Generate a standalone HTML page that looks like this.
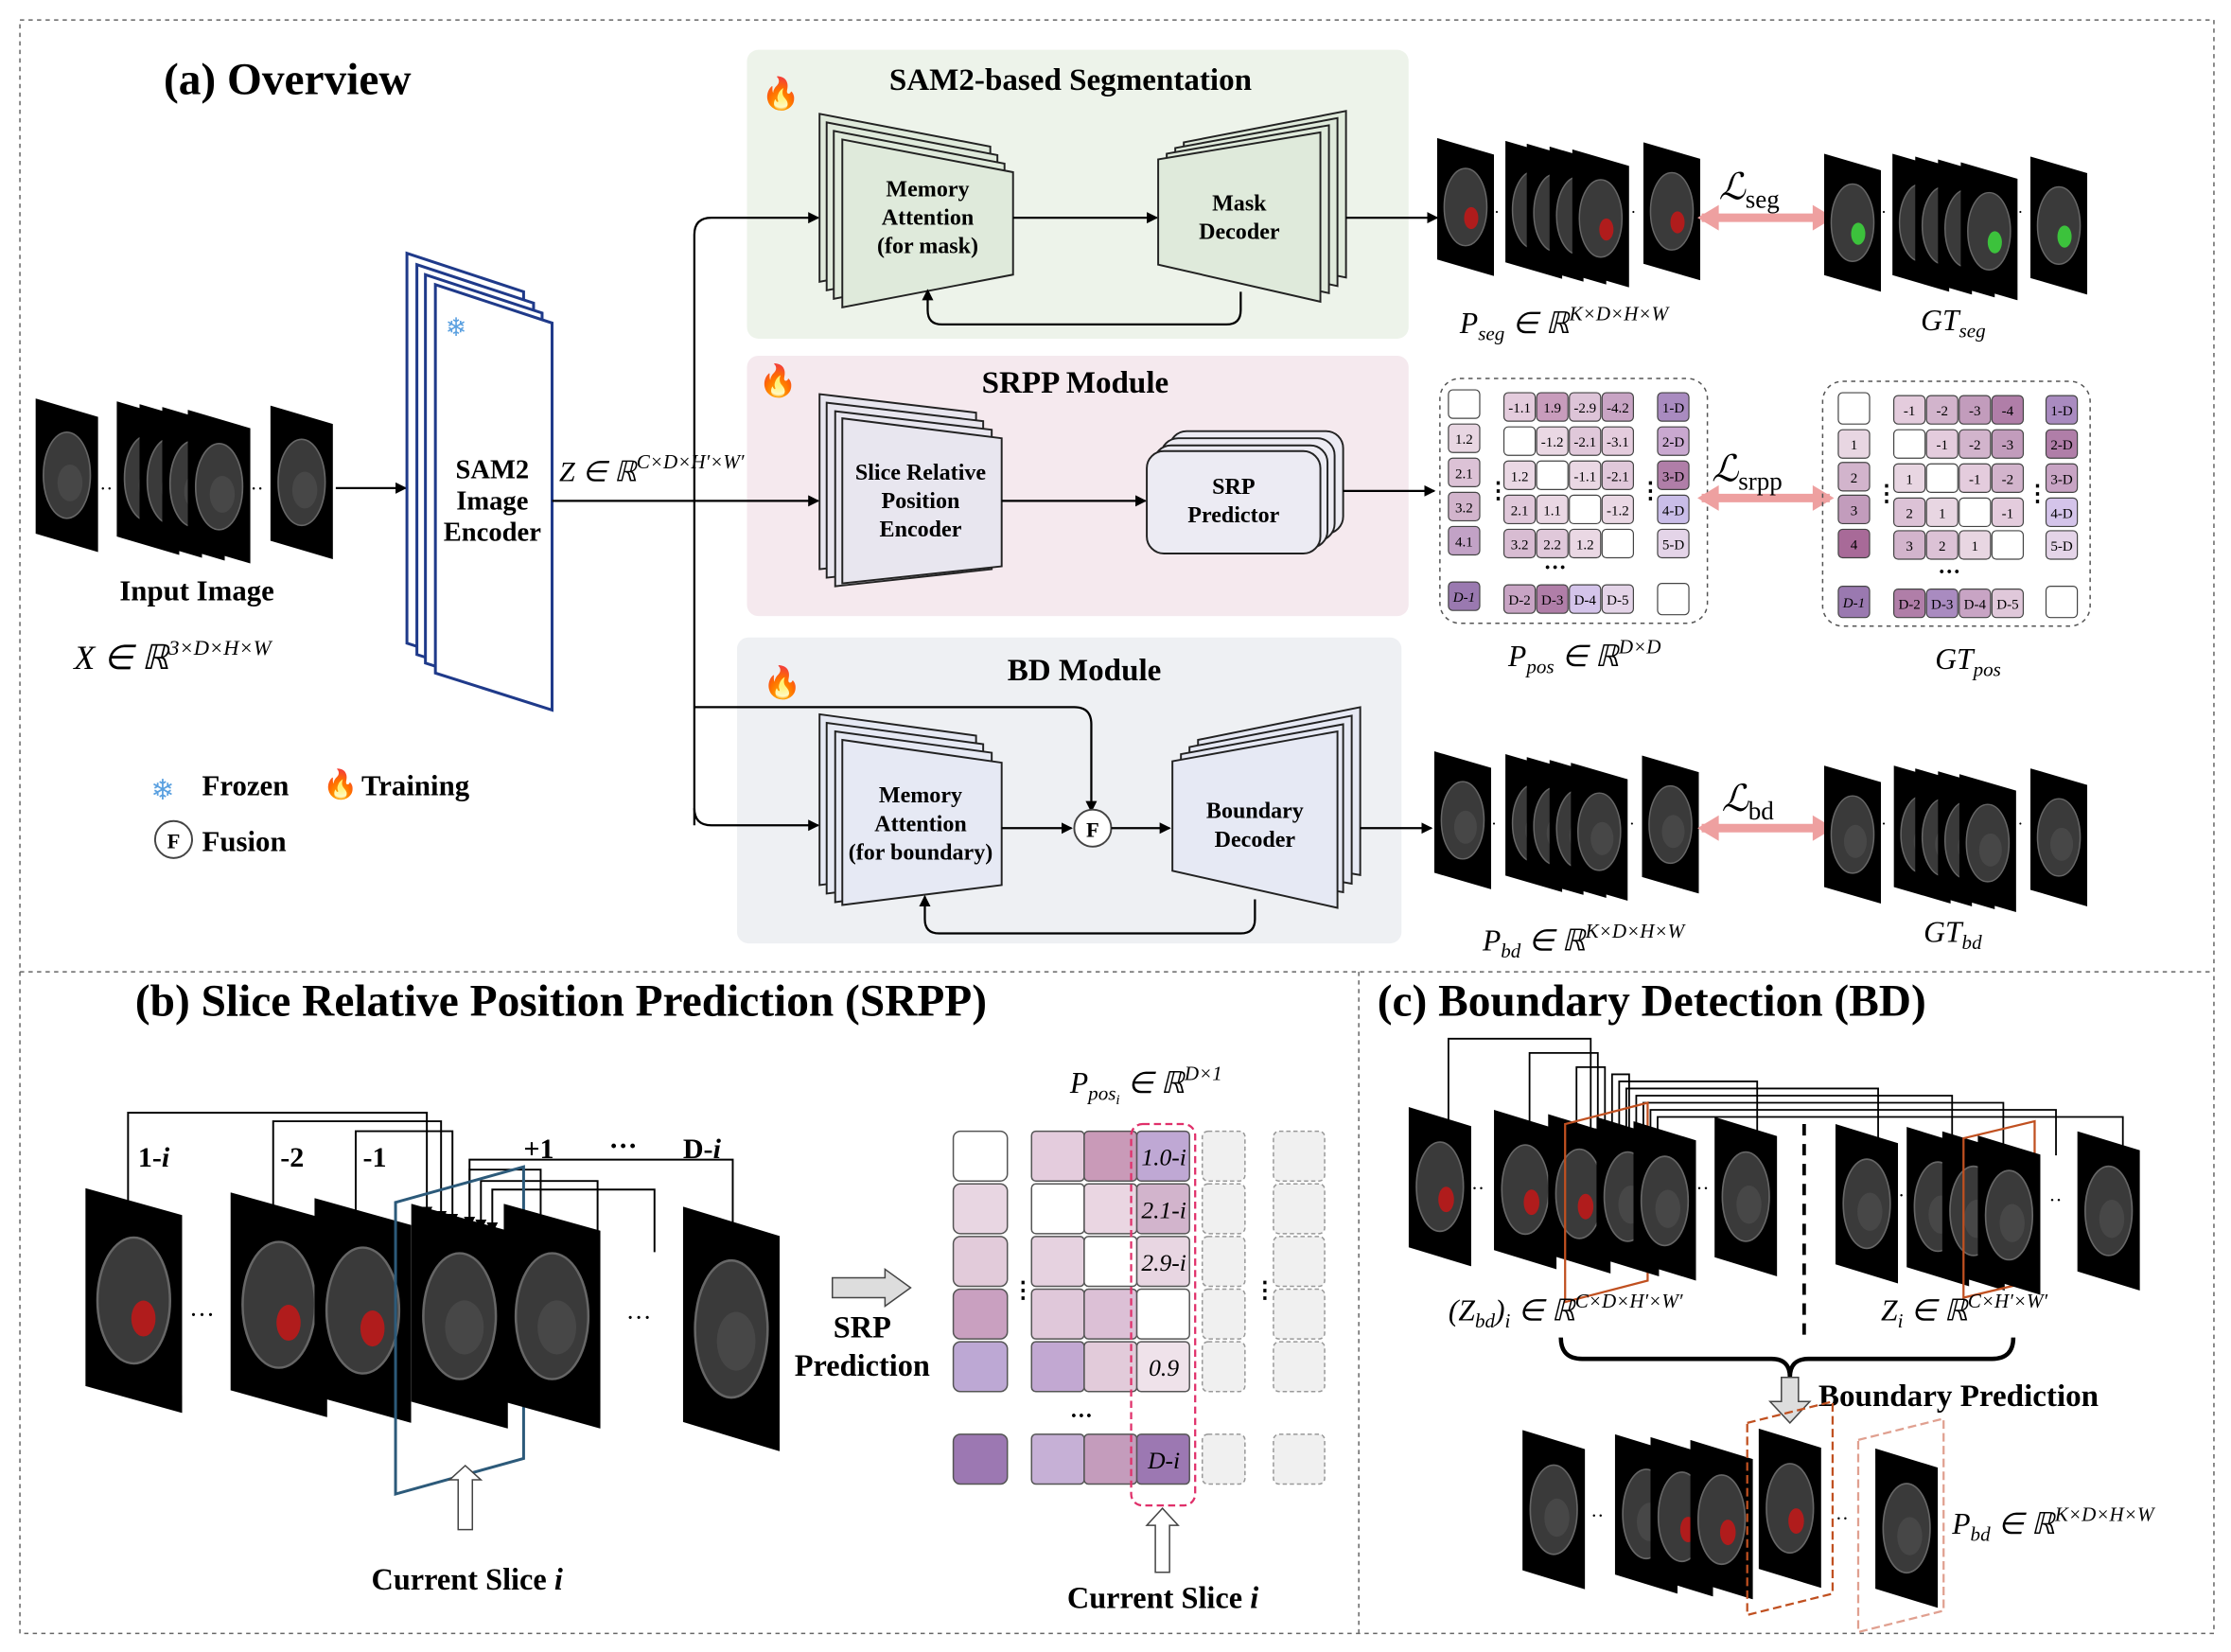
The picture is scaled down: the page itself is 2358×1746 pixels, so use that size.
<!DOCTYPE html>
<html><head><meta charset="utf-8"><style>
html,body{margin:0;padding:0;background:#fff}
svg{display:block}
text{font-family:"Liberation Serif",serif}
.b{font-weight:bold}
</style></head><body>
<svg width="2358" height="1746" viewBox="0 0 1568 1161" xmlns="http://www.w3.org/2000/svg">
<defs>
<symbol id="ct" viewBox="0 0 40 100" preserveAspectRatio="none">
<polygon points="0,0 40,12 40,100 0,88" fill="#000"/>
<ellipse cx="20" cy="50" rx="15" ry="28" fill="#3a3a3a" stroke="#666" stroke-width="1"/>
<ellipse cx="22" cy="55" rx="8" ry="12" fill="#474747"/>
</symbol>
<symbol id="ctr" viewBox="0 0 40 100" preserveAspectRatio="none">
<polygon points="0,0 40,12 40,100 0,88" fill="#000"/>
<ellipse cx="20" cy="50" rx="15" ry="28" fill="#3a3a3a" stroke="#666" stroke-width="1"/>
<ellipse cx="24" cy="58" rx="5" ry="8" fill="#b01c1c"/>
</symbol>
<symbol id="ctg" viewBox="0 0 40 100" preserveAspectRatio="none">
<polygon points="0,0 40,12 40,100 0,88" fill="#000"/>
<ellipse cx="20" cy="50" rx="15" ry="28" fill="#3a3a3a" stroke="#666" stroke-width="1"/>
<ellipse cx="24" cy="58" rx="5" ry="8" fill="#3cc23c"/>
</symbol>
<marker id="ar" markerWidth="8" markerHeight="8" refX="7" refY="4" orient="auto" markerUnits="userSpaceOnUse"><path d="M0,0 L8,4 L0,8 z" fill="#000"/></marker>
</defs>

<rect x="14" y="14" width="1542" height="1134" fill="none" stroke="#666" stroke-dasharray="3,3"/>
<line x1="14" y1="683" x2="1556" y2="683" stroke="#666" stroke-dasharray="3,3"/>
<line x1="955" y1="683" x2="955" y2="1148" stroke="#666" stroke-dasharray="3,3"/>

<rect x="525" y="35" width="465" height="203" rx="8" fill="#edf3ea"/>
<rect x="525" y="250" width="465" height="183" rx="8" fill="#f5e9ee"/>
<rect x="518" y="448" width="467" height="215" rx="8" fill="#eef0f3"/>

<text x="115" y="66" font-size="31.5" class="b">(a) Overview</text>
<text x="625" y="63" font-size="22" class="b">SAM2-based Segmentation</text>
<text x="690" y="276" font-size="22" class="b">SRPP Module</text>
<text x="708" y="478" font-size="22" class="b">BD Module</text>
<text x="535" y="73" font-size="22">🔥</text>
<text x="533" y="275" font-size="22">🔥</text>
<text x="536" y="487" font-size="22">🔥</text>

<use href="#ct" x="25" y="280" width="44" height="108"/>
<text x="70" y="348" font-size="14">··</text>
<use href="#ct" x="82" y="282" width="44" height="108"/>
<use href="#ct" x="98" y="284" width="44" height="108"/>
<use href="#ct" x="114" y="286" width="44" height="108"/>
<use href="#ct" x="132" y="288" width="44" height="108"/>
<text x="176" y="348" font-size="14">··</text>
<use href="#ct" x="190" y="285" width="44" height="108"/>
<line x1="236" y1="343" x2="285" y2="343" stroke="#000" stroke-width="1.5" marker-end="url(#ar)"/>
<text x="84" y="422" font-size="20.5" class="b">Input Image</text>
<text x="52" y="470" font-size="24" font-style="italic">X ∈ ℝ<tspan font-size="15" dy="-10">3×D×H×W</tspan></text>

<polygon points="286,178 368,205 368,478 286,452" fill="#fff" stroke="#1f3a8a" stroke-width="2"/>
<polygon points="293,186 375,213 375,486 293,460" fill="#fff" stroke="#1f3a8a" stroke-width="2"/>
<polygon points="299,193 381,220 381,492 299,466" fill="#fff" stroke="#1f3a8a" stroke-width="2"/>
<polygon points="306,200 388,227 388,499 306,473" fill="#fff" stroke="#1f3a8a" stroke-width="2"/>
<text x="313" y="236" font-size="18" fill="#5aa0e0">❄</text>
<text x="346" y="336" font-size="19" class="b" text-anchor="middle">SAM2</text>
<text x="346" y="358" font-size="19" class="b" text-anchor="middle">Image</text>
<text x="346" y="380" font-size="19" class="b" text-anchor="middle">Encoder</text>
<text x="393" y="338" font-size="20" font-style="italic">Z ∈ ℝ<tspan font-size="14" dy="-9">C×D×H′×W′</tspan></text>

<path d="M388,352 L488,352" stroke="#000" stroke-width="1.5" fill="none"/>
<path d="M488,580 L488,165 Q488,153 500,153 L575,153" stroke="#000" stroke-width="1.5" fill="none" marker-end="url(#ar)"/>
<path d="M488,352 L575,352" stroke="#000" stroke-width="1.5" fill="none" marker-end="url(#ar)"/>
<path d="M488,568 Q488,580 500,580 L575,580" stroke="#000" stroke-width="1.5" fill="none" marker-end="url(#ar)"/>
<path d="M488,497 L755,497 Q767,497 767,509 L767,570" stroke="#000" stroke-width="1.5" fill="none" marker-end="url(#ar)"/>

<polygon points="576,80 696,103 696,175 576,198" fill="#dfeadb" stroke="#222" stroke-width="1.3"/>
<polygon points="581,86 701,109 701,181 581,204" fill="#dfeadb" stroke="#222" stroke-width="1.3"/>
<polygon points="586,92 706,115 706,187 586,210" fill="#dfeadb" stroke="#222" stroke-width="1.3"/>
<polygon points="592,98 712,121 712,193 592,216" fill="#dfeadb" stroke="#222" stroke-width="1.3"/>
<text x="652" y="138" font-size="16" class="b" text-anchor="middle">Memory</text>
<text x="652" y="158" font-size="16" class="b" text-anchor="middle">Attention</text>
<text x="652" y="178" font-size="16" class="b" text-anchor="middle">(for mask)</text>
<line x1="712" y1="153" x2="813" y2="153" stroke="#000" stroke-width="1.5" marker-end="url(#ar)"/>
<polygon points="832,100 946,78 946,195 832,172" fill="#dfeadb" stroke="#222" stroke-width="1.3"/>
<polygon points="826,104 940,83 940,201 826,177" fill="#dfeadb" stroke="#222" stroke-width="1.3"/>
<polygon points="820,108 934,88 934,206 820,181" fill="#dfeadb" stroke="#222" stroke-width="1.3"/>
<polygon points="814,112 928,93 928,212 814,186" fill="#dfeadb" stroke="#222" stroke-width="1.3"/>
<text x="871" y="148" font-size="16" class="b" text-anchor="middle">Mask</text>
<text x="871" y="168" font-size="16" class="b" text-anchor="middle">Decoder</text>
<path d="M872,205 L872,218 Q872,228 862,228 L662,228 Q652,228 652,218 L652,204" stroke="#000" stroke-width="1.5" fill="none" marker-end="url(#ar)"/>
<line x1="946" y1="153" x2="1010" y2="153" stroke="#000" stroke-width="1.5" marker-end="url(#ar)"/>

<polygon points="576,277 686,290 686,388 576,400" fill="#e8e6ef" stroke="#222" stroke-width="1.3"/>
<polygon points="581,283 691,296 691,394 581,406" fill="#e8e6ef" stroke="#222" stroke-width="1.3"/>
<polygon points="587,289 697,302 697,400 587,412" fill="#e8e6ef" stroke="#222" stroke-width="1.3"/>
<polygon points="592,294 704,308 704,398 592,410" fill="#e8e6ef" stroke="#222" stroke-width="1.3"/>
<text x="647" y="337" font-size="16" class="b" text-anchor="middle">Slice Relative</text>
<text x="647" y="357" font-size="16" class="b" text-anchor="middle">Position</text>
<text x="647" y="377" font-size="16" class="b" text-anchor="middle">Encoder</text>
<line x1="704" y1="352" x2="805" y2="352" stroke="#000" stroke-width="1.5" marker-end="url(#ar)"/>
<rect x="822" y="303" width="122" height="72" rx="12" fill="#ecebf3" stroke="#222" stroke-width="1.3"/>
<rect x="816" y="308" width="122" height="72" rx="12" fill="#ecebf3" stroke="#222" stroke-width="1.3"/>
<rect x="811" y="313" width="122" height="72" rx="12" fill="#ecebf3" stroke="#222" stroke-width="1.3"/>
<rect x="806" y="317" width="122" height="72" rx="12" fill="#ecebf3" stroke="#222" stroke-width="1.3"/>
<text x="867" y="347" font-size="16" class="b" text-anchor="middle">SRP</text>
<text x="867" y="367" font-size="16" class="b" text-anchor="middle">Predictor</text>
<line x1="944" y1="345" x2="1008" y2="345" stroke="#000" stroke-width="1.5" marker-end="url(#ar)"/>

<polygon points="576,502 686,517 686,608 576,622" fill="#e6e9f4" stroke="#222" stroke-width="1.3"/>
<polygon points="581,508 691,523 691,614 581,628" fill="#e6e9f4" stroke="#222" stroke-width="1.3"/>
<polygon points="587,514 697,529 697,620 587,634" fill="#e6e9f4" stroke="#222" stroke-width="1.3"/>
<polygon points="592,520 704,536 704,622 592,636" fill="#e6e9f4" stroke="#222" stroke-width="1.3"/>
<text x="647" y="564" font-size="16" class="b" text-anchor="middle">Memory</text>
<text x="647" y="584" font-size="16" class="b" text-anchor="middle">Attention</text>
<text x="647" y="604" font-size="16" class="b" text-anchor="middle">(for boundary)</text>
<line x1="704" y1="582" x2="753" y2="582" stroke="#000" stroke-width="1.5" marker-end="url(#ar)"/>
<circle cx="768" cy="582" r="13" fill="#fff" stroke="#444" stroke-width="1.3"/>
<text x="768" y="588" font-size="15" font-family="Liberation Sans" text-anchor="middle" class="b">F</text>
<line x1="781" y1="582" x2="822" y2="582" stroke="#000" stroke-width="1.5" marker-end="url(#ar)"/>
<polygon points="842,520 956,497 956,615 842,595" fill="#e6e9f4" stroke="#222" stroke-width="1.3"/>
<polygon points="836,525 950,503 950,621 836,601" fill="#e6e9f4" stroke="#222" stroke-width="1.3"/>
<polygon points="830,530 944,509 944,627 830,607" fill="#e6e9f4" stroke="#222" stroke-width="1.3"/>
<polygon points="824,535 940,514 940,638 824,612" fill="#e6e9f4" stroke="#222" stroke-width="1.3"/>
<text x="882" y="575" font-size="16" class="b" text-anchor="middle">Boundary</text>
<text x="882" y="595" font-size="16" class="b" text-anchor="middle">Decoder</text>
<path d="M882,632 L882,646 Q882,656 872,656 L660,656 Q650,656 650,646 L650,630" stroke="#000" stroke-width="1.5" fill="none" marker-end="url(#ar)"/>
<line x1="956" y1="582" x2="1006" y2="582" stroke="#000" stroke-width="1.5" marker-end="url(#ar)"/>

<text x="106" y="562" font-size="20" fill="#5aa0e0">❄</text>
<text x="142" y="559" font-size="20.5" class="b">Frozen</text>
<text x="227" y="558" font-size="20">🔥</text>
<text x="254" y="559" font-size="20.5" class="b">Training</text>
<circle cx="122" cy="590" r="13" fill="#fff" stroke="#444" stroke-width="1.3"/>
<text x="122" y="596" font-size="15" font-family="Liberation Sans" text-anchor="middle" class="b">F</text>
<text x="142" y="598" font-size="20.5" class="b">Fusion</text>

<use href="#ctr" x="1010" y="97" width="40" height="97"/>
<text x="1050" y="153" font-size="12">·</text>
<use href="#ctr" x="1058" y="99" width="40" height="97"/>
<use href="#ctr" x="1073" y="101" width="40" height="97"/>
<use href="#ctr" x="1089" y="103" width="40" height="97"/>
<use href="#ctr" x="1105" y="105" width="40" height="97"/>
<text x="1146" y="153" font-size="12">·</text>
<use href="#ctr" x="1155" y="100" width="40" height="97"/>
<path d="M1196,153 L1286,153" stroke="#eea0a0" stroke-width="6"/>
<polygon points="1193,153 1208,144 1208,162" fill="#eea0a0"/><polygon points="1289,153 1274,144 1274,162" fill="#eea0a0"/>
<text x="1208" y="140" font-size="26" font-style="italic">ℒ<tspan font-size="18" font-style="normal" dy="6">seg</tspan></text>
<use href="#ctg" x="1282" y="108" width="40" height="97"/>
<text x="1322" y="153" font-size="12">·</text>
<use href="#ctg" x="1330" y="108" width="40" height="97"/>
<use href="#ctg" x="1346" y="110" width="40" height="97"/>
<use href="#ctg" x="1362" y="112" width="40" height="97"/>
<use href="#ctg" x="1378" y="114" width="40" height="97"/>
<text x="1418" y="153" font-size="12">·</text>
<use href="#ctg" x="1427" y="110" width="40" height="97"/>
<text x="1026" y="234" font-size="21" font-style="italic">P<tspan font-size="14" dy="5">seg</tspan><tspan dy="-5"> ∈ ℝ</tspan><tspan font-size="14" dy="-9">K×D×H×W</tspan></text>
<text x="1350" y="232" font-size="21" font-style="italic">GT<tspan font-size="14" dy="5">seg</tspan></text>

<rect x="1012" y="266" width="188" height="172" rx="14" fill="none" stroke="#555" stroke-dasharray="3,3"/>
<g stroke="#444" stroke-width="0.8">
<rect x="1018" y="274" width="22" height="20" rx="3" fill="#fff"/>
<rect x="1018" y="298" width="22" height="20" rx="3" fill="#e8d6e2"/>
<rect x="1018" y="322" width="22" height="20" rx="3" fill="#dcc2d6"/>
<rect x="1018" y="346" width="22" height="20" rx="3" fill="#d2b4cc"/>
<rect x="1018" y="370" width="22" height="20" rx="3" fill="#c2a2c6"/>
<rect x="1018" y="409" width="22" height="20" rx="3" fill="#9a79b0"/>
<rect x="1057" y="276" width="22" height="20" rx="3" fill="#e4ccdd"/><rect x="1080" y="276" width="22" height="20" rx="3" fill="#c89cbc"/><rect x="1103" y="276" width="22" height="20" rx="3" fill="#ddc4d8"/><rect x="1126" y="276" width="22" height="20" rx="3" fill="#c8a4c4"/>
<rect x="1057" y="300" width="22" height="20" rx="3" fill="#fff"/><rect x="1080" y="300" width="22" height="20" rx="3" fill="#ead8e4"/><rect x="1103" y="300" width="22" height="20" rx="3" fill="#e0c8da"/><rect x="1126" y="300" width="22" height="20" rx="3" fill="#e4ccdd"/>
<rect x="1057" y="324" width="22" height="20" rx="3" fill="#ead8e4"/><rect x="1080" y="324" width="22" height="20" rx="3" fill="#fff"/><rect x="1103" y="324" width="22" height="20" rx="3" fill="#ead8e4"/><rect x="1126" y="324" width="22" height="20" rx="3" fill="#e0c8da"/>
<rect x="1057" y="348" width="22" height="20" rx="3" fill="#e0c8da"/><rect x="1080" y="348" width="22" height="20" rx="3" fill="#ead8e4"/><rect x="1103" y="348" width="22" height="20" rx="3" fill="#fff"/><rect x="1126" y="348" width="22" height="20" rx="3" fill="#ead8e4"/>
<rect x="1057" y="372" width="22" height="20" rx="3" fill="#d8bcd2"/><rect x="1080" y="372" width="22" height="20" rx="3" fill="#e0c8da"/><rect x="1103" y="372" width="22" height="20" rx="3" fill="#ead8e4"/><rect x="1126" y="372" width="22" height="20" rx="3" fill="#fff"/>
<rect x="1057" y="411" width="22" height="20" rx="3" fill="#c8a4c4"/><rect x="1080" y="411" width="22" height="20" rx="3" fill="#b07ea8"/><rect x="1103" y="411" width="22" height="20" rx="3" fill="#d4c4ea"/><rect x="1126" y="411" width="22" height="20" rx="3" fill="#e4d4e8"/>
<rect x="1165" y="276" width="22" height="20" rx="3" fill="#a98bc0"/><rect x="1165" y="300" width="22" height="20" rx="3" fill="#c9a8d0"/><rect x="1165" y="324" width="22" height="20" rx="3" fill="#b07ea8"/><rect x="1165" y="348" width="22" height="20" rx="3" fill="#c9bde8"/><rect x="1165" y="372" width="22" height="20" rx="3" fill="#e4d4e8"/><rect x="1165" y="410" width="22" height="22" rx="3" fill="#fff"/>
</g>
<g font-size="10" text-anchor="middle">
<text x="1029" y="312">1.2</text><text x="1029" y="336">2.1</text><text x="1029" y="360">3.2</text><text x="1029" y="384">4.1</text><text x="1029" y="423" font-style="italic">D-1</text>
<text x="1068" y="290">-1.1</text><text x="1091" y="290">1.9</text><text x="1114" y="290">-2.9</text><text x="1137" y="290">-4.2</text>
<text x="1091" y="314">-1.2</text><text x="1114" y="314">-2.1</text><text x="1137" y="314">-3.1</text>
<text x="1068" y="338">1.2</text><text x="1114" y="338">-1.1</text><text x="1137" y="338">-2.1</text>
<text x="1068" y="362">2.1</text><text x="1091" y="362">1.1</text><text x="1137" y="362">-1.2</text>
<text x="1068" y="386">3.2</text><text x="1091" y="386">2.2</text><text x="1114" y="386">1.2</text>
<text x="1068" y="425">D-2</text><text x="1091" y="425">D-3</text><text x="1114" y="425">D-4</text><text x="1137" y="425">D-5</text>
<text x="1176" y="290">1-D</text><text x="1176" y="314">2-D</text><text x="1176" y="338">3-D</text><text x="1176" y="362">4-D</text><text x="1176" y="386">5-D</text>
</g>
<text x="1045" y="350" font-size="16" class="b">⋮</text><text x="1152" y="350" font-size="16" class="b">⋮</text>
<text x="1085" y="404" font-size="16" class="b">···</text>
<path d="M1196,350 L1286,350" stroke="#eea0a0" stroke-width="6"/>
<polygon points="1193,350 1208,341 1208,359" fill="#eea0a0"/><polygon points="1289,350 1274,341 1274,359" fill="#eea0a0"/>
<text x="1203" y="338" font-size="26" font-style="italic">ℒ<tspan font-size="18" font-style="normal" dy="6">srpp</tspan></text>
<text x="1060" y="468" font-size="21" font-style="italic">P<tspan font-size="14" dy="5">pos</tspan><tspan dy="-5"> ∈ ℝ</tspan><tspan font-size="14" dy="-9">D×D</tspan></text>

<rect x="1281" y="268" width="188" height="172" rx="14" fill="none" stroke="#555" stroke-dasharray="3,3"/>
<g stroke="#444" stroke-width="0.8">
<rect x="1292" y="276" width="22" height="22" rx="3" fill="#fff"/>
<rect x="1292" y="302" width="22" height="20" rx="3" fill="#e8d6e2"/>
<rect x="1292" y="325" width="22" height="20" rx="3" fill="#d2b4cc"/>
<rect x="1292" y="348" width="22" height="20" rx="3" fill="#c29cbc"/>
<rect x="1292" y="372" width="22" height="20" rx="3" fill="#a86a98"/>
<rect x="1292" y="412" width="22" height="22" rx="3" fill="#9a79b0"/>
<rect x="1331" y="278" width="22" height="20" rx="3" fill="#e4ccdd"/><rect x="1354" y="278" width="22" height="20" rx="3" fill="#d2b4cc"/><rect x="1377" y="278" width="22" height="20" rx="3" fill="#c29cbc"/><rect x="1400" y="278" width="22" height="20" rx="3" fill="#b07ea8"/>
<rect x="1331" y="302" width="22" height="20" rx="3" fill="#fff"/><rect x="1354" y="302" width="22" height="20" rx="3" fill="#e4ccdd"/><rect x="1377" y="302" width="22" height="20" rx="3" fill="#d2b4cc"/><rect x="1400" y="302" width="22" height="20" rx="3" fill="#c29cbc"/>
<rect x="1331" y="326" width="22" height="20" rx="3" fill="#e8d6e2"/><rect x="1354" y="326" width="22" height="20" rx="3" fill="#fff"/><rect x="1377" y="326" width="22" height="20" rx="3" fill="#e4ccdd"/><rect x="1400" y="326" width="22" height="20" rx="3" fill="#d2b4cc"/>
<rect x="1331" y="350" width="22" height="20" rx="3" fill="#dcc2d6"/><rect x="1354" y="350" width="22" height="20" rx="3" fill="#e8d6e2"/><rect x="1377" y="350" width="22" height="20" rx="3" fill="#fff"/><rect x="1400" y="350" width="22" height="20" rx="3" fill="#e4ccdd"/>
<rect x="1331" y="373" width="22" height="20" rx="3" fill="#d2b4cc"/><rect x="1354" y="373" width="22" height="20" rx="3" fill="#dcc2d6"/><rect x="1377" y="373" width="22" height="20" rx="3" fill="#e8d6e2"/><rect x="1400" y="373" width="22" height="20" rx="3" fill="#fff"/>
<rect x="1331" y="414" width="22" height="20" rx="3" fill="#b07ea8"/><rect x="1354" y="414" width="22" height="20" rx="3" fill="#a98bc0"/><rect x="1377" y="414" width="22" height="20" rx="3" fill="#c8a4c4"/><rect x="1400" y="414" width="22" height="20" rx="3" fill="#e0c8da"/>
<rect x="1438" y="278" width="22" height="20" rx="3" fill="#a98bc0"/><rect x="1438" y="302" width="22" height="20" rx="3" fill="#b07ea8"/><rect x="1438" y="326" width="22" height="20" rx="3" fill="#c8a4c4"/><rect x="1438" y="350" width="22" height="20" rx="3" fill="#d4c4ea"/><rect x="1438" y="373" width="22" height="20" rx="3" fill="#e4d4e8"/><rect x="1438" y="412" width="22" height="22" rx="3" fill="#fff"/>
</g>
<g font-size="10" text-anchor="middle">
<text x="1303" y="316">1</text><text x="1303" y="339">2</text><text x="1303" y="362">3</text><text x="1303" y="386">4</text><text x="1303" y="427" font-style="italic">D-1</text>
<text x="1342" y="292">-1</text><text x="1365" y="292">-2</text><text x="1388" y="292">-3</text><text x="1411" y="292">-4</text>
<text x="1365" y="316">-1</text><text x="1388" y="316">-2</text><text x="1411" y="316">-3</text>
<text x="1342" y="340">1</text><text x="1388" y="340">-1</text><text x="1411" y="340">-2</text>
<text x="1342" y="364">2</text><text x="1365" y="364">1</text><text x="1411" y="364">-1</text>
<text x="1342" y="387">3</text><text x="1365" y="387">2</text><text x="1388" y="387">1</text>
<text x="1342" y="428">D-2</text><text x="1365" y="428">D-3</text><text x="1388" y="428">D-4</text><text x="1411" y="428">D-5</text>
<text x="1449" y="292">1-D</text><text x="1449" y="316">2-D</text><text x="1449" y="340">3-D</text><text x="1449" y="364">4-D</text><text x="1449" y="387">5-D</text>
</g>
<text x="1318" y="352" font-size="16" class="b">⋮</text><text x="1424" y="352" font-size="16" class="b">⋮</text>
<text x="1362" y="407" font-size="16" class="b">···</text>
<text x="1360" y="470" font-size="21" font-style="italic">GT<tspan font-size="14" dy="5">pos</tspan></text>

<use href="#ct" x="1008" y="528" width="40" height="97"/>
<text x="1048" y="583" font-size="12">·</text>
<use href="#ct" x="1058" y="530" width="40" height="97"/>
<use href="#ct" x="1073" y="532" width="40" height="97"/>
<use href="#ct" x="1089" y="534" width="40" height="97"/>
<use href="#ct" x="1104" y="536" width="40" height="97"/>
<text x="1145" y="583" font-size="12">·</text>
<use href="#ct" x="1154" y="531" width="40" height="97"/>
<path d="M1196,582 L1286,582" stroke="#eea0a0" stroke-width="6"/>
<polygon points="1193,582 1208,573 1208,591" fill="#eea0a0"/><polygon points="1289,582 1274,573 1274,591" fill="#eea0a0"/>
<text x="1210" y="570" font-size="26" font-style="italic">ℒ<tspan font-size="18" font-style="normal" dy="6">bd</tspan></text>
<use href="#ct" x="1282" y="538" width="40" height="97"/>
<text x="1322" y="583" font-size="12">·</text>
<use href="#ct" x="1331" y="538" width="40" height="97"/>
<use href="#ct" x="1346" y="540" width="40" height="97"/>
<use href="#ct" x="1362" y="542" width="40" height="97"/>
<use href="#ct" x="1377" y="544" width="40" height="97"/>
<text x="1418" y="583" font-size="12">·</text>
<use href="#ct" x="1427" y="540" width="40" height="97"/>
<text x="1042" y="668" font-size="21" font-style="italic">P<tspan font-size="14" dy="5">bd</tspan><tspan dy="-5"> ∈ ℝ</tspan><tspan font-size="14" dy="-9">K×D×H×W</tspan></text>
<text x="1352" y="662" font-size="21" font-style="italic">GT<tspan font-size="14" dy="5">bd</tspan></text>

<text x="95" y="714" font-size="31.5" class="b">(b) Slice Relative Position Prediction (SRPP)</text>
<g stroke="#000" stroke-width="1.3" fill="none">
<path d="M90,850 L90,782 L300,782 L300,855" marker-end="url(#ar)"/>
<path d="M192,860 L192,788 L310,788 L310,858" marker-end="url(#ar)"/>
<path d="M250,868 L250,795 L318,795 L318,860" marker-end="url(#ar)"/>
<path d="M380,880 L380,822 L330,822 L330,862" marker-end="url(#ar)"/>
<path d="M420,880 L420,830 L338,830 L338,864" marker-end="url(#ar)"/>
<path d="M460,880 L460,836 L346,836 L346,866" marker-end="url(#ar)"/>
<path d="M515,870 L515,815 L330,815 L330,862"/>
</g>
<use href="#ctr" x="60" y="835" width="68" height="158"/>
<text x="133" y="930" font-size="18">···</text>
<use href="#ctr" x="162" y="838" width="68" height="158"/>
<use href="#ctr" x="221" y="842" width="68" height="158"/>
<polygon points="278,845 368,820 368,1025 278,1050" fill="none" stroke="#2c5a7a" stroke-width="2"/>
<use href="#ct" x="289" y="846" width="68" height="158"/>
<use href="#ct" x="354" y="846" width="68" height="158"/>
<text x="440" y="932" font-size="18">···</text>
<use href="#ct" x="480" y="848" width="68" height="172"/>
<text x="97" y="820" font-size="20" class="b">1-<tspan font-style="italic">i</tspan></text>
<text x="197" y="820" font-size="20" class="b">-2</text>
<text x="255" y="820" font-size="20" class="b">-1</text>
<text x="368" y="814" font-size="20" class="b">+1</text>
<text x="428" y="812" font-size="20" class="b">···</text>
<text x="480" y="814" font-size="20" class="b">D-<tspan font-style="italic">i</tspan></text>
<polygon points="322,1075 322,1040 316,1040 327,1030 338,1040 332,1040 332,1075" fill="#fff" stroke="#444"/>
<text x="261" y="1117" font-size="21.5" class="b">Current Slice <tspan font-style="italic">i</tspan></text>
<polygon points="585,898 622,898 622,892 640,905 622,918 622,912 585,912" fill="#ddd" stroke="#444"/>
<text x="606" y="940" font-size="21.5" class="b" text-anchor="middle">SRP</text>
<text x="606" y="967" font-size="21.5" class="b" text-anchor="middle">Prediction</text>

<text x="752" y="768" font-size="21" font-style="italic">P<tspan font-size="14" dy="5">pos<tspan font-size="10" dy="3">i</tspan></tspan><tspan dy="-8"> ∈ ℝ</tspan><tspan font-size="14" dy="-9">D×1</tspan></text>
<g stroke="#555" stroke-width="1">
<rect x="670" y="795" width="38" height="35" rx="5" fill="#fff"/>
<rect x="670" y="832" width="38" height="35" rx="5" fill="#e8d6e2"/>
<rect x="670" y="869" width="38" height="35" rx="5" fill="#e2cbda"/>
<rect x="670" y="906" width="38" height="35" rx="5" fill="#c9a0c0"/>
<rect x="670" y="943" width="38" height="35" rx="5" fill="#bda8d4"/>
<rect x="670" y="1008" width="38" height="35" rx="5" fill="#9c78b2"/>
<rect x="725" y="795" width="37" height="35" rx="3" fill="#e4ccdd"/><rect x="762" y="795" width="37" height="35" rx="3" fill="#c99ab8"/><rect x="799" y="795" width="37" height="35" rx="3" fill="#bfa8d4"/>
<rect x="725" y="832" width="37" height="35" rx="3" fill="#fff"/><rect x="762" y="832" width="37" height="35" rx="3" fill="#ead6e2"/><rect x="799" y="832" width="37" height="35" rx="3" fill="#d2b4cc"/>
<rect x="725" y="869" width="37" height="35" rx="3" fill="#e6d2e0"/><rect x="762" y="869" width="37" height="35" rx="3" fill="#fff"/><rect x="799" y="869" width="37" height="35" rx="3" fill="#e8d6e2"/>
<rect x="725" y="906" width="37" height="35" rx="3" fill="#e0c8da"/><rect x="762" y="906" width="37" height="35" rx="3" fill="#dcc0d6"/><rect x="799" y="906" width="37" height="35" rx="3" fill="#fff"/>
<rect x="725" y="943" width="37" height="35" rx="3" fill="#c2a8d2"/><rect x="762" y="943" width="37" height="35" rx="3" fill="#e2cbda"/><rect x="799" y="943" width="37" height="35" rx="3" fill="#efe2ea"/>
<rect x="725" y="1008" width="37" height="35" rx="3" fill="#c6b0d6"/><rect x="762" y="1008" width="37" height="35" rx="3" fill="#c49cbc"/><rect x="799" y="1008" width="37" height="35" rx="3" fill="#9c78b2"/>
</g>
<g stroke="#999" stroke-dasharray="3,2" fill="#f0f0f0">
<rect x="845" y="795" width="30" height="35" rx="4"/><rect x="845" y="832" width="30" height="35" rx="4"/><rect x="845" y="869" width="30" height="35" rx="4"/><rect x="845" y="906" width="30" height="35" rx="4"/><rect x="845" y="943" width="30" height="35" rx="4"/><rect x="845" y="1008" width="30" height="35" rx="4"/>
<rect x="895" y="795" width="36" height="35" rx="4"/><rect x="895" y="832" width="36" height="35" rx="4"/><rect x="895" y="869" width="36" height="35" rx="4"/><rect x="895" y="906" width="36" height="35" rx="4"/><rect x="895" y="943" width="36" height="35" rx="4"/><rect x="895" y="1008" width="36" height="35" rx="4"/>
</g>
<rect x="795" y="790" width="45" height="268" rx="8" fill="none" stroke="#e0306a" stroke-width="1.5" stroke-dasharray="5,3"/>
<g font-size="17" font-style="italic" text-anchor="middle">
<text x="818" y="819">1.0-i</text><text x="818" y="856">2.1-i</text><text x="818" y="893">2.9-i</text><text x="818" y="967">0.9</text><text x="818" y="1032">D-i</text>
</g>
<text x="711" y="912" font-size="16" class="b">⋮</text><text x="881" y="912" font-size="16" class="b">⋮</text>
<text x="752" y="1000" font-size="16" class="b">···</text>
<polygon points="812,1105 812,1072 806,1072 817,1060 828,1072 822,1072 822,1105" fill="#fff" stroke="#444"/>
<text x="750" y="1130" font-size="21.5" class="b">Current Slice <tspan font-style="italic">i</tspan></text>

<text x="968" y="714" font-size="31.5" class="b">(c) Boundary Detection (BD)</text>
<g stroke="#000" stroke-width="1.2" fill="none">
<path d="M1018,792 L1018,730 L1118,730 L1118,800" marker-end="url(#ar)"/>
<path d="M1075,795 L1075,740 L1123,740 L1123,802" marker-end="url(#ar)"/>
<path d="M1108,798 L1108,750 L1128,750 L1128,804" marker-end="url(#ar)"/>
<path d="M1145,803 L1145,755 L1133,755 L1133,806" marker-end="url(#ar)"/>
<path d="M1235,808 L1235,760 L1138,760 L1138,808" marker-end="url(#ar)"/>
<path d="M1320,810 L1320,765 L1143,765 L1143,810" marker-end="url(#ar)"/>
<path d="M1372,812 L1372,770 L1150,770 L1150,812"/>
<path d="M1408,812 L1408,775 L1155,775 L1155,812"/>
<path d="M1445,812 L1445,780 L1160,780 L1160,812"/>
<path d="M1492,820 L1492,785 L1165,785 L1165,814"/>
</g>
<use href="#ctr" x="990" y="778" width="44" height="112"/>
<text x="1034" y="840" font-size="14">··</text>
<use href="#ctr" x="1050" y="780" width="44" height="112"/>
<use href="#ctr" x="1088" y="783" width="44" height="112"/>
<polygon points="1100,790 1158,775 1158,900 1100,915" fill="none" stroke="#c05020" stroke-width="1.5"/>
<use href="#ct" x="1122" y="785" width="44" height="112"/>
<use href="#ct" x="1148" y="788" width="44" height="112"/>
<text x="1192" y="840" font-size="14">··</text>
<use href="#ct" x="1205" y="785" width="44" height="112"/>
<line x1="1268" y1="790" x2="1268" y2="940" stroke="#000" stroke-width="2.5" stroke-dasharray="8,6"/>
<use href="#ct" x="1290" y="790" width="44" height="112"/>
<text x="1334" y="845" font-size="14">··</text>
<use href="#ct" x="1340" y="792" width="44" height="112"/>
<use href="#ct" x="1365" y="795" width="44" height="112"/>
<polygon points="1380,800 1430,788 1430,900 1380,912" fill="none" stroke="#c05020" stroke-width="1.5"/>
<use href="#ct" x="1390" y="798" width="44" height="112"/>
<text x="1440" y="848" font-size="14">··</text>
<use href="#ct" x="1460" y="795" width="44" height="112"/>
<text x="1018" y="928" font-size="21" font-style="italic">(Z<tspan font-size="14" dy="5">bd</tspan><tspan dy="-5">)</tspan><tspan font-size="14" dy="5">i</tspan><tspan dy="-5"> ∈ ℝ</tspan><tspan font-size="14" dy="-9">C×D×H′×W′</tspan></text>
<text x="1322" y="928" font-size="21" font-style="italic">Z<tspan font-size="14" dy="5">i</tspan><tspan dy="-5"> ∈ ℝ</tspan><tspan font-size="14" dy="-9">C×H′×W′</tspan></text>
<path d="M1097,940 Q1097,955 1112,955 L1245,955 Q1258,955 1258,968 Q1258,955 1271,955 L1400,955 Q1415,955 1415,940" stroke="#000" stroke-width="3" fill="none"/>
<polygon points="1252,968 1264,968 1264,985 1272,985 1258,1000 1244,985 1252,985" fill="#ddd" stroke="#444"/>
<text x="1278" y="988" font-size="22" class="b">Boundary Prediction</text>
<use href="#ct" x="1070" y="1005" width="44" height="112"/>
<text x="1118" y="1070" font-size="14">··</text>
<use href="#ct" x="1135" y="1008" width="44" height="112"/>
<use href="#ctr" x="1160" y="1010" width="44" height="112"/>
<use href="#ctr" x="1188" y="1012" width="44" height="112"/>
<polygon points="1228,1000 1288,985 1288,1120 1228,1135" fill="none" stroke="#c05020" stroke-width="1.5" stroke-dasharray="6,3"/>
<use href="#ctr" x="1236" y="1004" width="44" height="112"/>
<text x="1290" y="1072" font-size="14">··</text>
<polygon points="1306,1012 1366,997 1366,1132 1306,1147" fill="none" stroke="#e0a090" stroke-width="1.5" stroke-dasharray="6,3"/>
<use href="#ct" x="1318" y="1018" width="44" height="112"/>
<text x="1372" y="1078" font-size="21" font-style="italic">P<tspan font-size="14" dy="5">bd</tspan><tspan dy="-5"> ∈ ℝ</tspan><tspan font-size="14" dy="-9">K×D×H×W</tspan></text>
</svg>
</body></html>
